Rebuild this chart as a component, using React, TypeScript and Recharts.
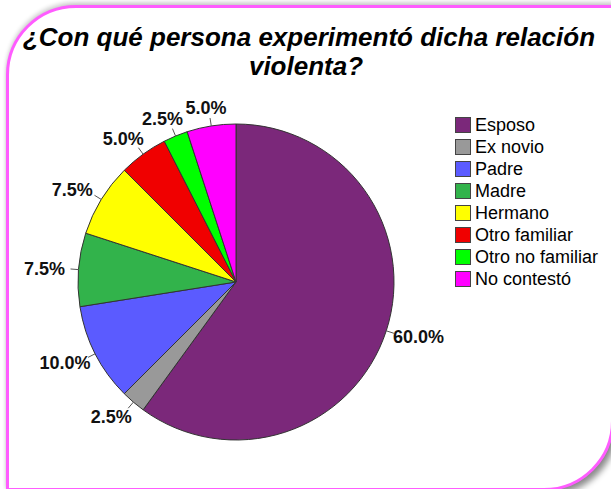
import { Cell, Legend, Pie, PieChart } from "recharts"

// Datos del gráfico (porcentajes)
const categorias = [
  "Esposo",
  "Ex novio",
  "Padre",
  "Madre",
  "Hermano",
  "Otro familiar",
  "Otro no familiar",
  "No contestó",
]
const porcentajes = [60.0, 2.5, 10.0, 7.5, 7.5, 5.0, 2.5, 5.0]

const COLORES = ["#7b287a", "#999999", "#5b5bff", "#32b34b", "#ffff00", "#f00000", "#00ff00", "#ff00ff"]

const datos = categorias.map((nombre, i) => ({ nombre, valor: porcentajes[i] }))

const RADIAN = Math.PI / 180
const FUENTE = "'Liberation Sans', Arial, sans-serif"

const renderLabel = (props: any) => {
  const { cx, cy, midAngle, outerRadius, value } = props
  const ux = Math.cos(-midAngle * RADIAN)
  const uy = Math.sin(-midAngle * RADIAN)
  const x1 = cx + outerRadius * ux
  const y1 = cy + outerRadius * uy
  const x2 = cx + (outerRadius + 8) * ux
  const y2 = cy + (outerRadius + 8) * uy
  const tx = cx + (outerRadius + 18) * ux + ux * 16
  const ty = cy + (outerRadius + 19) * uy
  return (
    <g>
      <line x1={x1} y1={y1} x2={x2} y2={y2} stroke="#555" strokeWidth={1} />
      <text
        x={tx}
        y={ty}
        dy="0.36em"
        textAnchor="middle"
        fontFamily={FUENTE}
        fontWeight="bold"
        fontSize={18}
        fill="#111"
      >
        {`${Number(value).toFixed(1)}%`}
      </text>
    </g>
  )
}

const renderLegend = (props: any) => {
  // mantener el orden original de las categorías
  const items = [...(props.payload || [])].sort(
    (a: any, b: any) => categorias.indexOf(a.value) - categorias.indexOf(b.value)
  )
  return (
    <div style={{ fontFamily: FUENTE, fontSize: 18, color: "#000" }}>
      {items.map((entry: any, i: number) => (
        <div key={i} style={{ display: "flex", alignItems: "center", height: 22, whiteSpace: "nowrap" }}>
          <span
            style={{
              display: "inline-block",
              width: 14,
              height: 14,
              background: entry.color,
              border: "1px solid #444",
              marginRight: 4,
            }}
          />
          <span>{entry.value}</span>
        </div>
      ))}
    </div>
  )
}

const estiloTitulo = {
  position: "absolute" as const,
  left: 0,
  width: 618,
  textAlign: "center" as const,
  fontFamily: FUENTE,
  fontWeight: "bold",
  fontStyle: "italic",
  fontSize: 26,
  lineHeight: "20px",
  color: "#000",
  whiteSpace: "nowrap" as const,
}

export default function App() {
  return (
    <div style={{ position: "absolute", left: 0, top: 0, width: 611, height: 489, background: "#fff", overflow: "hidden" }}>
      <div
        style={{
          position: "absolute",
          left: 6,
          top: 5,
          width: 602,
          height: 480,
          border: "3px solid #ff5cff",
          borderRadius: "70px 0 70px 0",
          background: "#fff",
          boxShadow: "0 -3px 4px rgba(0,0,0,0.18), 4px 4px 6px rgba(0,0,0,0.45)",
        }}
      />
      <div style={{ ...estiloTitulo, top: 27 }}>¿Con qué persona experimentó dicha relación</div>
      <div style={{ ...estiloTitulo, top: 56, width: 612 }}>violenta?</div>
      <div style={{ position: "absolute", left: 0, top: 0 }}>
        <PieChart width={611} height={489} margin={{ top: 0, right: 0, bottom: 0, left: 0 }}>
          <Pie
            data={datos}
            dataKey="valor"
            nameKey="nombre"
            cx={236}
            cy={282}
            outerRadius={158}
            startAngle={90}
            endAngle={-270}
            stroke="#333"
            strokeWidth={1}
            label={renderLabel}
            labelLine={false}
            isAnimationActive={false}
          >
            {datos.map((_, i) => (
              <Cell key={i} fill={COLORES[i]} />
            ))}
          </Pie>
          <Legend
            layout="vertical"
            align="center"
            verticalAlign="middle"
            content={renderLegend}
            wrapperStyle={{ left: 455, top: 114, width: 156 }}
          />
        </PieChart>
      </div>
    </div>
  )
}
